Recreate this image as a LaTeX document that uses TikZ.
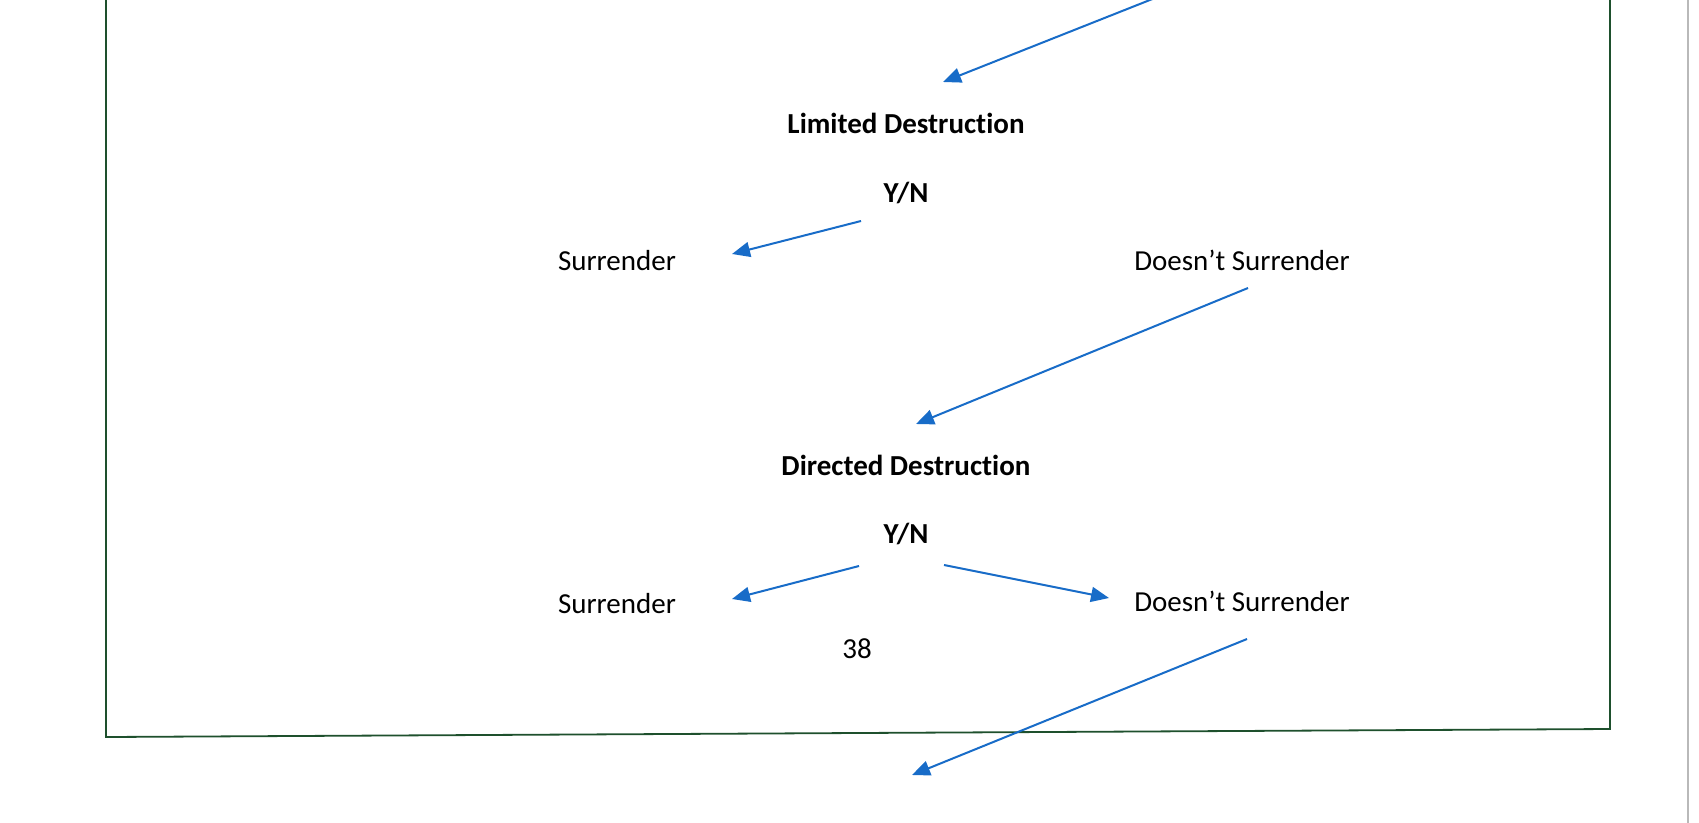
\documentclass[tikz,border=0pt]{standalone}
\usepackage{fontspec}
\setmainfont{Carlito}[Ligatures={NoCommon,NoRare,NoContextual}]
\usetikzlibrary{arrows.meta}
\definecolor{arrowblue}{RGB}{24,108,200}
\definecolor{boxgreen}{RGB}{30,80,45}
\tikzset{
  lbl/.style={inner sep=0pt, font=\fontsize{29}{34}\selectfont},
  blbl/.style={lbl, font=\fontsize{29}{34}\selectfont\bfseries},
  arr/.style={draw=arrowblue, line width=2pt, -{Triangle[length=18pt,width=15pt]}, fill=arrowblue},
  frame/.style={draw=boxgreen, line width=1.8pt},
}
\begin{document}
\begin{tikzpicture}[x=1pt,y=-1pt]
\useasboundingbox (0,0) rectangle (1699,822);
\clip (0,0) rectangle (1699,822);
\fill[white] (0,0) rectangle (1699,822);
% scan edge
\draw[gray!55, line width=2pt] (1688,-5) -- (1688,830);
% frame
\draw[frame] (106,-10) -- (106,737) -- (1610,729) -- (1610,-10);
% texts
\node[blbl] (ld) at (906,123) {Limited Destruction};
\node[blbl] (yn1) at (906,193) {Y/N};
\node[lbl] (s1) at (617,261) {Surrender};
\node[lbl] (ds1) at (1242,260) {Doesn’t Surrender};
\node[blbl] (dd) at (906,465) {Directed Destruction};
\node[blbl] (yn2) at (906,534) {Y/N};
\node[lbl] (s2) at (617,604) {Surrender};
\node[lbl] (ds2) at (1242,601) {Doesn’t Surrender};
\node[lbl] (pg) at (857,649) {38};
% connector ends
\coordinate (a0s) at (1160,-4);
\coordinate (a0e) at (943,82);
\coordinate (a1s) at (861,221);
\coordinate (a1e) at (732,254);
\coordinate (a2s) at (1248,288);
\coordinate (a2e) at (916,424);
\coordinate (a3s) at (859,566);
\coordinate (a3e) at (732,599);
\coordinate (a4s) at (944,565);
\coordinate (a4e) at (1109,598);
\coordinate (a5s) at (1247,639);
\coordinate (a5e) at (912,775);
\draw[arr] (a0s) -- (a0e);
\draw[arr] (a1s) -- (a1e);
\draw[arr] (a2s) -- (a2e);
\draw[arr] (a3s) -- (a3e);
\draw[arr] (a4s) -- (a4e);
\draw[arr] (a5s) -- (a5e);
\end{tikzpicture}
\end{document}
